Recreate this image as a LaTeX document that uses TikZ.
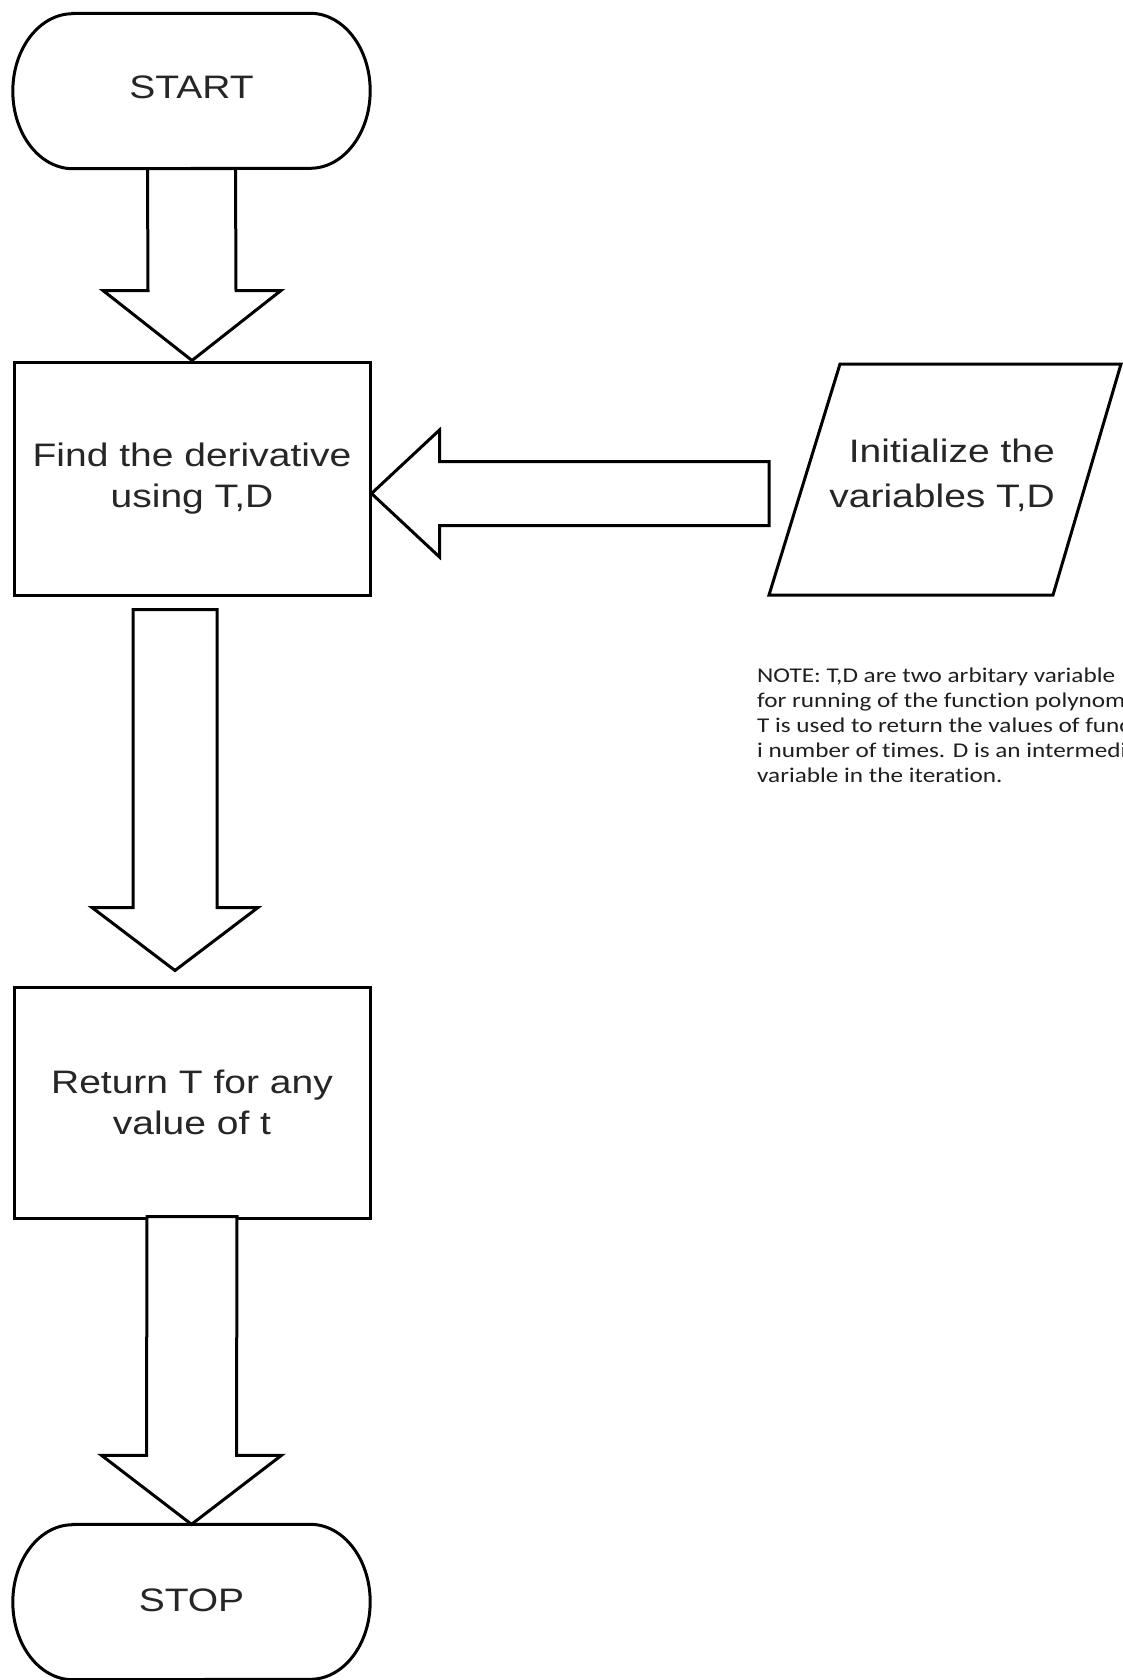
\documentclass[tikz,border=0pt]{standalone}
\usepackage{fontspec}
\setmainfont{Liberation Sans}
\newfontfamily\mainf{Liberation Sans}[FakeStretch=1.2]
\newfontfamily\notef{Carlito}[FakeStretch=1.2, Ligatures=NoCommon]
\usetikzlibrary{calc}
\begin{document}
\begin{tikzpicture}[x=1pt,y=1pt,
  lw/.style={line width=3pt, line join=miter},
  blk/.style={lw, fill=white},
  boxtxt/.style={font=\mainf\fontsize{32.5}{41}\selectfont, align=center, inner sep=0pt, text=black!85},
  procbox/.style={boxtxt, draw, line width=3pt, minimum width=356pt, minimum height=233pt},
  termbox/.style={boxtxt, minimum width=357pt, minimum height=155pt, text depth=8pt},
  notetxt/.style={font=\notef\fontsize{21}{25}\selectfont, align=left, inner sep=0pt, text=black!88}]
\fill[white] (0,0) rectangle (1123,-1680);
\useasboundingbox (0,0) rectangle (1123,-1680);
\begin{scope}
\clip (0,0) rectangle (1123,-1680);
% terminals
\node[termbox] (start) at (191.5,-91) {START};
\draw[lw] ([xshift=60pt]start.north west) -- ([xshift=-60pt]start.north east)
  arc[start angle=90, end angle=-90, x radius=60, y radius=77.5]
  -- ([xshift=60pt]start.south west)
  arc[start angle=270, end angle=90, x radius=60, y radius=77.5] -- cycle;
\node[termbox, text depth=4pt] (stop) at (191.5,-1602) {STOP};
\draw[lw] ([xshift=60pt]stop.north west) -- ([xshift=-60pt]stop.north east)
  arc[start angle=90, end angle=-90, x radius=60, y radius=77.5]
  -- ([xshift=60pt]stop.south west)
  arc[start angle=270, end angle=90, x radius=60, y radius=77.5] -- cycle;
% process boxes
\node[procbox] (find) at (192,-478.5) {Find the derivative\\using T,D};
\node[procbox, minimum height=231pt] (ret) at (192,-1102.5) {Return T for any\\value of t};
% input parallelogram
\coordinate (pTL) at (840,-364);
\coordinate (pTR) at (1121,-364);
\coordinate (pBR) at (1053,-595);
\coordinate (pBL) at (769,-595);
\draw[lw] (pTL) -- (pTR) -- (pBR) -- (pBL) -- cycle;
\node[boxtxt, font=\mainf\fontsize{32.5}{45}\selectfont, align=right, anchor=east] (init) at (1055,-475) {Initialize the\\variables T,D};
% note
\node[notetxt, anchor=north west] (note) at (757,-668) {NOTE: T,D are two arbitary variable\\for running of the function polynomial\\T is used to return the values of function\\i number of times. D is an intermediate\\variable in the iteration.};
% block arrows
\draw[blk] ($(start.south)+(-44,0)$) -- ($(find.north)+(-44,70)$) -- ($(find.north)+(-89,70)$)
  -- (find.north) -- ($(find.north)+(89,70)$) -- ($(find.north)+(44,70)$)
  -- ($(start.south)+(44,0)$) -- cycle;
\coordinate (a2top) at ($(find.south)+(-17,-13)$);
\coordinate (a2tip) at ($(ret.north)+(-17,15)$);
\draw[blk] ($(a2top)+(-42,0)$) -- ($(a2tip)+(-42,63)$) -- ($(a2tip)+(-83,63)$)
  -- (a2tip) -- ($(a2tip)+(83,63)$) -- ($(a2tip)+(42,63)$)
  -- ($(a2top)+(42,0)$) -- cycle;
\draw[blk] ($(ret.south)+(-45,3)$) -- ($(stop.north)+(-45,69)$) -- ($(stop.north)+(-90,69)$)
  -- (stop.north) -- ($(stop.north)+(90,69)$) -- ($(stop.north)+(45,69)$)
  -- ($(ret.south)+(45,3)$) -- cycle;
\coordinate (htip) at ($(find.east)+(0,-15)$);
\coordinate (hend) at ($(pBL)+(0,101.5)$);
\draw[blk] (htip) -- ($(htip)+(68,63.5)$) -- ($(htip)+(68,32)$) -- ($(hend)+(0,32)$)
  -- ($(hend)+(0,-32)$) -- ($(htip)+(68,-32)$) -- ($(htip)+(68,-63.5)$) -- cycle;
\end{scope}
\end{tikzpicture}
\end{document}
